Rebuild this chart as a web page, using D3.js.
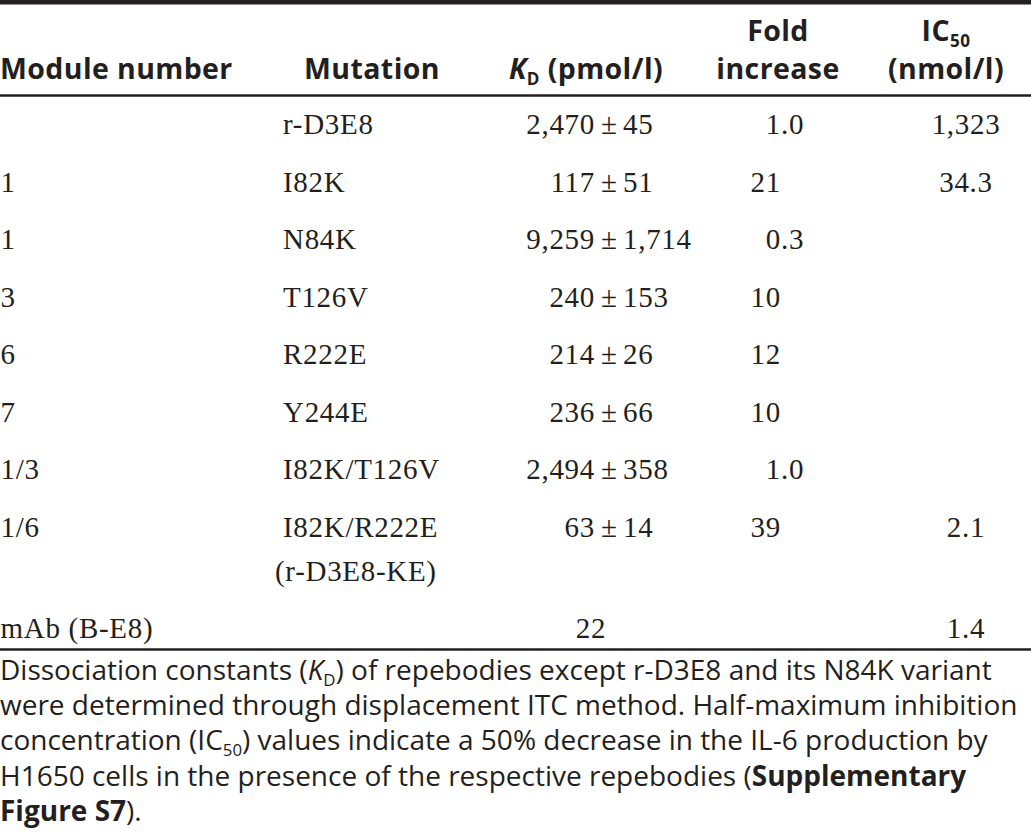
<!DOCTYPE html>
<html><head><meta charset="utf-8">
<script src="https://cdn.jsdelivr.net/npm/d3@7"></script>
<style>body{margin:0;background:#fff}</style>
</head><body>
<svg id="chart" width="1031" height="833"></svg>
<script>
// ---------- data ----------
const moduleNumbers = ["", "1", "1", "3", "6", "7", "1/3", "1/6", "mAb (B-E8)"];
const mutations = [["r-D3E8"], ["I82K"], ["N84K"], ["T126V"], ["R222E"], ["Y244E"], ["I82K/T126V"], ["I82K/R222E", "(r-D3E8-KE)"], []];
const kdMeans = [2470, 117, 9259, 240, 214, 236, 2494, 63, 22];
const kdErrors = [45, 51, 1714, 153, 26, 66, 358, 14, null];
const foldIncrease = [1.0, 21, 0.3, 10, 12, 10, 1.0, 39, null];
const ic50Values = [1323, 34.3, null, null, null, null, null, 2.1, 1.4];

const headerModule = [[{t: "Module number"}]];
const headerMutation = [[{t: "Mutation"}]];
const headerKd = [[{t: "K", i: 1}, {t: "D", sub: 1}, {t: " (pmol/l)"}]];
const headerFold = [[{t: "Fold"}], [{t: "increase"}]];
const headerIc50 = [[{t: "IC"}, {t: "50", sub: 1}], [{t: "(nmol/l)"}]];

const captionLines = [
  [{t: "Dissociation constants ("}, {t: "K", i: 1}, {t: "D", sub: 1}, {t: ") of repebodies except r-D3E8 and its N84K variant"}],
  [{t: "were determined through displacement ITC method. Half-maximum inhibition"}],
  [{t: "concentration (IC"}, {t: "50", sub: 1}, {t: ") values indicate a 50% decrease in the IL-6 production by"}],
  [{t: "H1650 cells in the presence of the respective repebodies ("}, {t: "Supplementary", b: 1}],
  [{t: "Figure S7", b: 1}, {t: ")."}]
];

// ---------- layout ----------
const W = 1031, H = 833;
const ink = "#231f20";
const sansFont = "'Open Sans', 'Noto Sans', sans-serif";
const serifFont = "'Liberation Serif', 'DejaVu Serif', serif";
const svg = d3.select("#chart");

// rules
svg.append("rect").attr("x", 0).attr("y", 0).attr("width", W).attr("height", 4.5).attr("fill", ink);
svg.append("line").attr("x1", 0).attr("x2", W).attr("y1", 95.5).attr("y2", 95.5).attr("stroke", ink).attr("stroke-width", 2.5);
svg.append("line").attr("x1", 0).attr("x2", W).attr("y1", 649.5).attr("y2", 649.5).attr("stroke", ink).attr("stroke-width", 2.5);

function richText(g, segs, x, y, anchor, size, baseWeight, spacing) {
  const t = g.append("text").attr("x", x).attr("y", y).attr("text-anchor", anchor)
    .attr("font-family", sansFont).attr("font-size", size).attr("fill", ink)
    .attr("font-weight", baseWeight || "normal").attr("letter-spacing", spacing || 0);
  let shift = 0;
  segs.forEach(s => {
    const sp = t.append("tspan").text(s.t);
    const target = s.sub ? size * 0.2 : 0;
    if (target !== shift) { sp.attr("dy", target - shift); shift = target; }
    if (s.sub) sp.attr("font-size", size * 0.6);
    if (s.i) sp.attr("font-style", "italic");
    if (s.b) sp.attr("font-weight", "bold");
  });
  return t;
}

// header
const hSize = 28.5;
const headerLineY = [41, 79];
const header = svg.append("g");
function headerCell(lines, x, anchor) {
  const off = 2 - lines.length;
  lines.forEach((segs, k) => richText(header, segs, x, headerLineY[k + off], anchor, hSize, "bold", 0.4));
}
headerCell(headerModule, 0, "start");
headerCell(headerMutation, 372, "middle");
headerCell(headerKd, 586, "middle");
headerCell(headerFold, 778, "middle");
headerCell(headerIc50, 946, "middle");

// rows
const rowLines = mutations.map(m => Math.max(1, m.length));
const rowIndex = d3.range(moduleNumbers.length);
const extraBefore = rowIndex.map(i => d3.sum(rowLines.slice(0, i), n => n - 1));
const yRow = d3.scaleLinear().domain([0, 1]).range([134, 191.5]);
const lineGap = 44;
const rowY = i => yRow(i) + extraBefore[i] * lineGap;

const bSize = 29;
const ls = 0.7;
const body = svg.append("g").attr("font-family", serifFont).attr("font-size", bSize).attr("fill", ink);
const fmtInt = d3.format(",");
const fmtFold = v => v < 10 ? d3.format(".1f")(v) : d3.format("d")(v);
const fmtIc = v => Number.isInteger(v) ? fmtInt(v) : d3.format(".1f")(v);

const colModuleX = 0.5, colMutX = 283, kdAlignX = 595, foldAlignX = 781, icX = 966;

rowIndex.forEach(i => {
  const y = rowY(i);
  body.append("text").attr("x", colModuleX).attr("y", y).attr("letter-spacing", ls).text(moduleNumbers[i]);
  mutations[i].forEach((m, k) => body.append("text").attr("x", colMutX - (m.startsWith("(") ? 8 : 0)).attr("y", y + k * lineGap).attr("letter-spacing", ls).text(m));
  if (kdErrors[i] != null) {
    body.append("text").attr("x", kdAlignX).attr("y", y).attr("text-anchor", "end").attr("letter-spacing", ls).text(fmtInt(kdMeans[i]));
    body.append("text").attr("x", kdAlignX + 14).attr("y", y).attr("text-anchor", "middle").text("\u00b1");
    body.append("text").attr("x", kdAlignX + 28).attr("y", y).attr("letter-spacing", ls).text(fmtInt(kdErrors[i]));
  } else if (kdMeans[i] != null) {
    body.append("text").attr("x", 591).attr("y", y).attr("text-anchor", "middle").attr("letter-spacing", ls).text(fmtInt(kdMeans[i]));
  }
  if (foldIncrease[i] != null) {
    const parts = fmtFold(foldIncrease[i]).split(".");
    body.append("text").attr("x", foldAlignX).attr("y", y).attr("text-anchor", "end").attr("letter-spacing", ls).text(parts[0]);
    if (parts.length > 1) body.append("text").attr("x", foldAlignX).attr("y", y).attr("letter-spacing", ls).text("." + parts[1]);
  }
  if (ic50Values[i] != null) {
    body.append("text").attr("x", icX).attr("y", y).attr("text-anchor", "middle").attr("letter-spacing", ls).text(fmtIc(ic50Values[i]));
  }
});

// caption
const cap = svg.append("g");
const capY = d3.scaleLinear().domain([0, 1]).range([680, 715.2]);
captionLines.forEach((segs, k) => richText(cap, segs, 0, capY(k), "start", 28, "normal", 0));
</script>
</body></html>
